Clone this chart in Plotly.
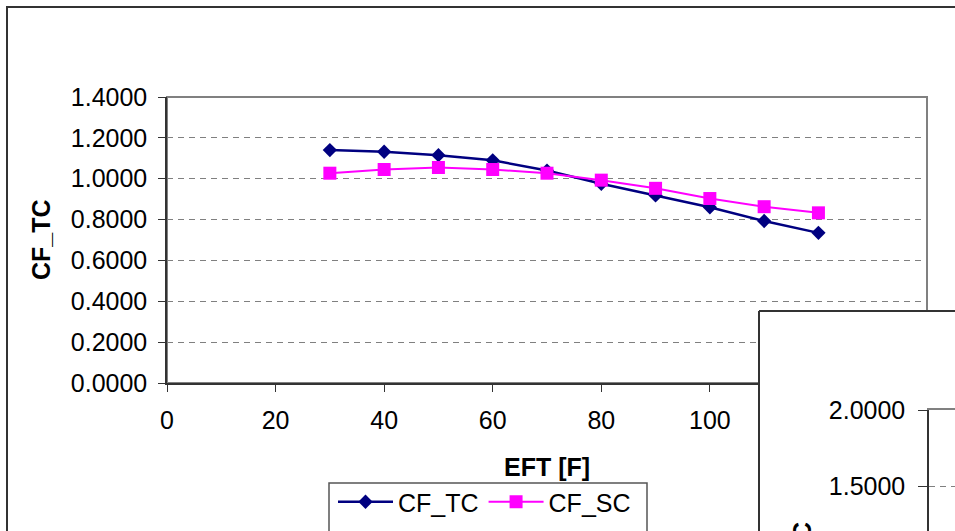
import plotly.graph_objects as go

# ---- data ----
eft = [30, 40, 50, 60, 70, 80, 90, 100, 110, 120]
cf_tc = [1.140, 1.132, 1.115, 1.090, 1.040, 0.975, 0.918, 0.860, 0.793, 0.735]
cf_sc = [1.027, 1.045, 1.055, 1.045, 1.027, 0.993, 0.953, 0.903, 0.863, 0.833]
y_ticks = [0.0, 0.2, 0.4, 0.6, 0.8, 1.0, 1.2, 1.4]
x_ticks = [0, 20, 40, 60, 80, 100]
y2_ticks = [1.5, 2.0]

W, H = 955, 531
FONT = "Liberation Sans, Arial, sans-serif"
FS = 25


def px(x):
    return x / W


def py(y):
    return 1 - y / H


fig = go.Figure()
fig.add_trace(go.Scatter(
    x=eft, y=cf_tc, name="CF_TC", mode="lines+markers",
    line=dict(color="#000080", width=2.5),
    marker=dict(symbol="diamond", size=11, color="#000080"),
))
fig.add_trace(go.Scatter(
    x=eft, y=cf_sc, name="CF_SC", mode="lines+markers",
    line=dict(color="#FF00FF", width=2),
    marker=dict(symbol="square", size=13, color="#FF00FF"),
))
fig.add_trace(go.Scatter(x=[], y=[], xaxis="x2", yaxis="y2", showlegend=False))

grid = dict(showgrid=True, gridcolor="#808080", gridwidth=1, griddash="6px,5px")

fig.update_layout(
    width=W, height=H,
    margin=dict(l=0, r=0, t=0, b=0, autoexpand=False),
    paper_bgcolor="white", plot_bgcolor="white",
    font=dict(family=FONT, size=FS, color="black"),
    xaxis=dict(domain=[px(167), px(927)], range=[0, 140], tickvals=x_ticks,
               showgrid=False, zeroline=False, showline=True, linecolor="#333",
               linewidth=1.5, ticks="outside", ticklen=7, tickcolor="#333",
               ticklabelstandoff=7, anchor="y", automargin=False),
    yaxis=dict(domain=[py(383), py(97)], range=[0, 1.4], tickvals=y_ticks,
               tickformat=".4f", zeroline=False, showline=True, linecolor="#333",
               linewidth=1.5, ticks="outside", ticklen=7, tickcolor="#333",
               ticklabelstandoff=6, anchor="x", automargin=False, **grid),
    xaxis2=dict(domain=[px(929), 1], range=[0, 1], showticklabels=False,
                showgrid=False, zeroline=False, side="top", showline=True,
                linecolor="#808080", linewidth=2, anchor="y2", automargin=False),
    yaxis2=dict(domain=[0, py(410)], range=[1.204, 2.0], tickvals=y2_ticks,
                tickformat=".4f", zeroline=False, showline=True, linecolor="#333",
                linewidth=1.5, ticks="outside", ticklen=9, tickcolor="#333",
                ticklabelstandoff=8, anchor="x2", automargin=False, **grid),
    legend=dict(orientation="h", x=px(333), xanchor="left", y=py(479), yanchor="top",
                bgcolor="rgba(0,0,0,0)", borderwidth=0, itemwidth=55,
                font=dict(family=FONT, size=FS), itemclick=False),
    showlegend=True,
)

shapes = [
    # outer chart border
    dict(type="rect", xref="paper", yref="paper", x0=px(7), y0=py(7), x1=1.05, y1=-0.05,
         line=dict(color="#333", width=2), fillcolor="rgba(0,0,0,0)", layer="below"),
    # plot area border
    dict(type="rect", xref="paper", yref="paper", x0=px(167), y0=py(97), x1=px(927), y1=py(383),
         line=dict(color="#808080", width=2), fillcolor="rgba(0,0,0,0)", layer="below"),
    # second chart overlapping: white cover
    dict(type="rect", xref="paper", yref="paper", x0=px(759), y0=py(311), x1=1.05, y1=py(398),
         line=dict(width=0), fillcolor="white", layer="above"),
    dict(type="line", xref="paper", yref="paper", x0=px(759), y0=py(311), x1=1.05, y1=py(311),
         line=dict(color="#333", width=2), layer="above"),
    dict(type="line", xref="paper", yref="paper", x0=px(759), y0=py(311), x1=px(759), y1=-0.05,
         line=dict(color="#333", width=2), layer="above"),
    # legend box
    dict(type="rect", xref="paper", yref="paper", x0=px(329), y0=py(483), x1=px(647), y1=-0.05,
         line=dict(color="#555", width=1.5), fillcolor="rgba(0,0,0,0)", layer="above"),
]
fig.update_layout(shapes=shapes)

fig.add_annotation(text="<b>EFT [F]</b>", xref="paper", yref="paper", x=px(547), y=py(467),
                   xanchor="center", yanchor="middle", showarrow=False, font=dict(size=FS))
fig.add_annotation(text="<b>CF_TC</b>", xref="paper", yref="paper", x=px(41), y=py(240),
                   xanchor="center", yanchor="middle", textangle=-90, showarrow=False,
                   font=dict(size=FS))
fig.add_annotation(text="<b>CF_SC</b>", xref="paper", yref="paper", x=px(802), y=py(563),
                   xanchor="center", yanchor="middle", textangle=-90, showarrow=False,
                   font=dict(size=FS))

fig.write_html("out.html")
